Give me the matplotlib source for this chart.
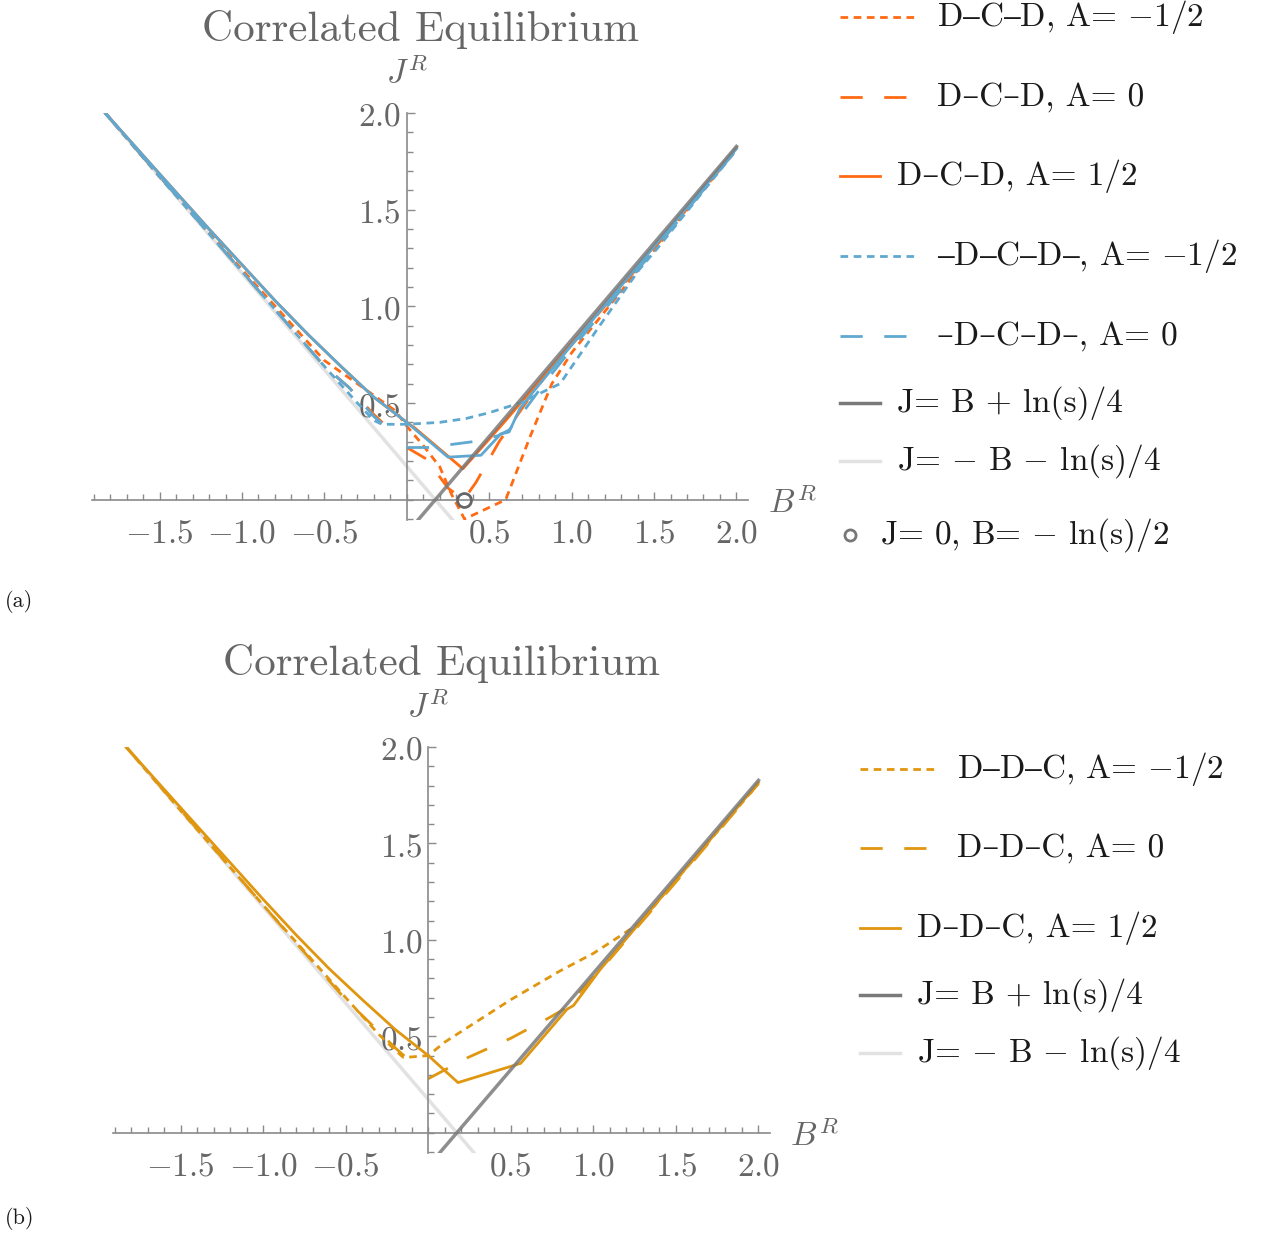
import numpy as np
import matplotlib.pyplot as plt
from matplotlib.lines import Line2D

plt.rcParams['mathtext.fontset'] = 'cm'
plt.rcParams['lines.scale_dashes'] = False
CM = ['cmr10', 'DejaVu Serif']

# ---- data (B^R, J^R) ----
nan = np.nan
s_circle = (0.347, 0.0)  # J=0, B=-ln(s)/2 with s=1/2

# reference lines (end points)
light_B = [-1.83, 0.28]
light_J = [2.0, -0.107]
dark_B = [0.07, 2.0]
dark_J = [-0.103, 1.827]

# panel (a): D-C-D (orange) and -D-C-D- (blue)
dcd_m_B = [-1.83, -1.5, -1.0, -0.5, -0.25, -0.07, 0.0, 0.1, 0.2, 0.27, 0.35, 0.6, 0.75, 0.88, 1.0, 1.5, 2.0]
dcd_m_J = [2.0, 1.67, 1.19, 0.72, 0.57, 0.46, 0.38, 0.28, 0.17, 0.03, -0.10, 0.0, 0.33, 0.60, 0.76, 1.29, 1.81]
dcd_0_B = [-1.83, -1.0, -0.5, -0.35, -0.2, -0.06, nan, 0.0, 0.12, 0.25, 0.345, 0.42, 0.56, 0.73, 0.85, 1.0, 1.5, 2.0]
dcd_0_J = [2.0, 1.18, 0.69, 0.58, 0.44, 0.33, nan, 0.27, 0.21, 0.06, 0.0, 0.09, 0.30, 0.51, 0.65, 0.80, 1.30, 1.81]
dcd_p_B = [-1.83, -1.5, -1.2, -1.0, -0.8, -0.6, -0.4, -0.2, 0.0, 0.05, 0.34, 0.6, 1.0, 1.5, 2.0]
dcd_p_J = [2.0, 1.685, 1.40, 1.215, 1.03, 0.855, 0.69, 0.53, 0.40, 0.37, 0.16, 0.41, 0.81, 1.31, 1.82]

mdcd_m_B = [-1.83, -1.5, -1.0, -0.5, -0.3, -0.2, -0.15, 0.0, 0.2, 0.36, 0.5, 0.685, 0.93, 1.17, 1.41, 1.53, 2.0]
mdcd_m_J = [2.0, 1.67, 1.18, 0.69, 0.50, 0.41, 0.39, 0.39, 0.40, 0.42, 0.45, 0.50, 0.60, 0.90, 1.19, 1.31, 1.81]
mdcd_0_B = [-1.83, -1.0, -0.5, -0.35, -0.2, -0.06, nan, 0.0, 0.13, 0.4, 0.55, 0.62, 0.72, 0.85, 1.0, 1.5, 2.0]
mdcd_0_J = [2.0, 1.18, 0.69, 0.58, 0.43, 0.33, nan, 0.27, 0.27, 0.30, 0.33, 0.36, 0.47, 0.62, 0.78, 1.29, 1.81]
mdcd_p_B = [-1.83, -1.5, -1.2, -1.0, -0.8, -0.6, -0.4, -0.2, 0.0, 0.25, 0.45, 0.57, 0.62, 0.685, 0.75, 1.0, 1.5, 2.0]
mdcd_p_J = [2.0, 1.685, 1.40, 1.215, 1.03, 0.855, 0.69, 0.53, 0.40, 0.22, 0.23, 0.34, 0.35, 0.47, 0.54, 0.80, 1.31, 1.815]

# panel (b): D-D-C
ddc_m_B = [-1.83, -1.5, -1.0, -0.5, -0.3, -0.19, -0.15, 0.0, 0.1, 0.3, 0.5, 0.8, 1.0, 1.18, 1.3, 1.42, 2.0]
ddc_m_J = [2.0, 1.67, 1.18, 0.70, 0.51, 0.42, 0.39, 0.40, 0.47, 0.58, 0.69, 0.84, 0.93, 1.03, 1.10, 1.23, 1.81]
ddc_0_B = [-1.83, -1.0, -0.5, -0.39, -0.2, -0.07, nan, 0.0, 0.24, 0.5, 0.74, 0.84, 0.92, 1.1, 1.5, 2.0]
ddc_0_J = [2.0, 1.18, 0.69, 0.60, 0.44, 0.34, nan, 0.28, 0.39, 0.49, 0.60, 0.65, 0.73, 0.90, 1.30, 1.81]
ddc_p_B = [-1.83, -1.5, -1.2, -1.0, -0.8, -0.6, -0.4, -0.2, 0.0, 0.18, 0.56, 0.84, 0.88, 1.04, 1.5, 2.0]
ddc_p_J = [2.0, 1.685, 1.40, 1.21, 1.025, 0.85, 0.69, 0.535, 0.40, 0.26, 0.36, 0.64, 0.66, 0.845, 1.31, 1.815]

x_major = [-1.5, -1.0, -0.5, 0.5, 1.0, 1.5, 2.0]
y_major = [0.5, 1.0, 1.5, 2.0]

ORANGE = '#FF6A13'
BLUE = '#5FA8D0'
AMBER = '#E0960F'
DARK = '#7a7a7a'
LIGHT = '#e2e2e2'
AXC = '#8a8a8a'
TXT = '#666666'

SHORT = (0, (5.5, 4.0))
LONG = (0, (16.0, 15.5))
LW = 2.0

W, H = 1272, 1237
fig = plt.figure(figsize=(W / 100, H / 100), dpi=100)


def setup(ax, title):
    ax.set_xlim(-1.91, 2.07)
    ax.set_ylim(-0.105, 2.0)
    for side in ['top', 'right']:
        ax.spines[side].set_visible(False)
    ax.spines['left'].set_position(('data', 0))
    ax.spines['bottom'].set_position(('data', 0))
    for side in ['left', 'bottom']:
        ax.spines[side].set_color(AXC)
        ax.spines[side].set_linewidth(1.2)
    ax.set_xticks(x_major, ['$%.1f$' % v for v in x_major])
    ax.set_yticks(y_major, ['$%.1f$' % v for v in y_major])
    ax.set_xticks(np.round(np.arange(-1.9, 2.05, 0.1), 2), minor=True)
    ax.set_yticks(np.round(np.arange(-0.1, 2.0, 0.1), 2), minor=True)
    ax.tick_params(which='both', direction='in', color=AXC, width=1.0,
                   labelsize=24, labelcolor=TXT)
    ax.tick_params(which='major', length=6)
    ax.tick_params(which='minor', length=4)
    ax.tick_params(axis='x', pad=12)
    ax.tick_params(axis='y', pad=4)
    ax.patch.set_visible(False)
    ax.set_title(title, family=CM, fontsize=31, color=TXT, pad=52)
    ax.text(0, 2.12, '$J^R$', fontsize=24, color=TXT, ha='center', va='bottom', clip_on=False)
    ax.text(2.19, -0.02, '$B^R$', fontsize=24, color=TXT, ha='left', va='center', clip_on=False)


def ref_lines(ax):
    ax.plot(light_B, light_J, color=LIGHT, lw=2.5, zorder=1)
    ax.plot(dark_B, dark_J, color=DARK, lw=2.5, alpha=0.85, zorder=5)


ax_a = fig.add_axes([92 / W, 1 - 520 / H, 656 / W, 407 / H])
setup(ax_a, 'Correlated Equilibrium')
ref_lines(ax_a)
ax_a.plot(dcd_m_B, dcd_m_J, color=ORANGE, lw=LW, linestyle=SHORT, zorder=2)
ax_a.plot(dcd_0_B, dcd_0_J, color=ORANGE, lw=LW, linestyle=LONG, zorder=2)
ax_a.plot(dcd_p_B, dcd_p_J, color=ORANGE, lw=LW, zorder=2)
ax_a.plot(mdcd_m_B, mdcd_m_J, color=BLUE, lw=LW, linestyle=SHORT, zorder=3)
ax_a.plot(mdcd_0_B, mdcd_0_J, color=BLUE, lw=LW, linestyle=LONG, zorder=3)
ax_a.plot(mdcd_p_B, mdcd_p_J, color=BLUE, lw=LW, zorder=3)
ax_a.plot([s_circle[0]], [s_circle[1]], 'o', ms=10, mfc='none', mec='#666666', mew=2, zorder=6, clip_on=False)

ax_b = fig.add_axes([113 / W, 1 - 1153 / H, 657 / W, 406 / H])
setup(ax_b, 'Correlated Equilibrium')
ref_lines(ax_b)
ax_b.plot(ddc_m_B, ddc_m_J, color=AMBER, lw=LW, linestyle=SHORT, zorder=2)
ax_b.plot(ddc_0_B, ddc_0_J, color=AMBER, lw=LW, linestyle=LONG, zorder=2)
ax_b.plot(ddc_p_B, ddc_p_J, color=AMBER, lw=LW, zorder=3)

# ---- legends, drawn like the original (handles of different length) ----
HANDLE = {'short': (78, SHORT, 937), 'long': (70, LONG, 937), 'solid': (40, '-', 897)}


def legend_entry(x0, y, kind, color, label):
    if '$' in label:
        # text that goes through mathtext: keep the dashes in math as well
        label = label.replace('–', '$\u2013$')
    if kind == 'circle':
        fig.add_artist(Line2D([(x0 + 10) / W], [1 - y / H], marker='o', ms=8, mfc='none',
                              mec='#777777', mew=2, transform=fig.transFigure))
        tx = x0 + 40
    else:
        length, ls, tx = HANDLE[kind]
        tx = tx - 840 + x0
        lw = 2.5 if color in (DARK, LIGHT) else LW
        fig.add_artist(Line2D([x0 / W, (x0 + length) / W], [1 - y / H, 1 - y / H],
                              color=color, lw=lw, linestyle=ls, transform=fig.transFigure))
    fig.text(tx / W, 1 - y / H, label, family=CM, fontsize=24, color='#1a1a1a',
             ha='left', va='center')


legend_a = [
    ('short', ORANGE, 'D–C–D, A= $-$1/2', 17),
    ('long', ORANGE, 'D–C–D, A= 0', 97),
    ('solid', ORANGE, 'D–C–D, A= 1/2', 176),
    ('short', BLUE, '–D–C–D–, A= $-$1/2', 256),
    ('long', BLUE, '–D–C–D–, A= 0', 336),
    ('solid', DARK, 'J= B + ln(s)/4', 403),
    ('solid', LIGHT, 'J= $-$ B $-$ ln(s)/4', 461),
    ('circle', None, 'J= 0, B= $-$ ln(s)/2', 535),
]
legend_b = [
    ('short', AMBER, 'D–D–C, A= $-$1/2', 769),
    ('long', AMBER, 'D–D–C, A= 0', 848),
    ('solid', AMBER, 'D–D–C, A= 1/2', 928),
    ('solid', DARK, 'J= B + ln(s)/4', 995),
    ('solid', LIGHT, 'J= $-$ B $-$ ln(s)/4', 1053),
]
for kind, color, label, y in legend_a:
    legend_entry(840, y, kind, color, label)
for kind, color, label, y in legend_b:
    legend_entry(860, y, kind, color, label)

fig.text(5 / W, 1 - 601 / H, '(a)', family=CM, fontsize=16, color='#1a1a1a', va='center')
fig.text(5 / W, 1 - 1218 / H, '(b)', family=CM, fontsize=16, color='#1a1a1a', va='center')

fig.savefig('out.png', dpi=100)
